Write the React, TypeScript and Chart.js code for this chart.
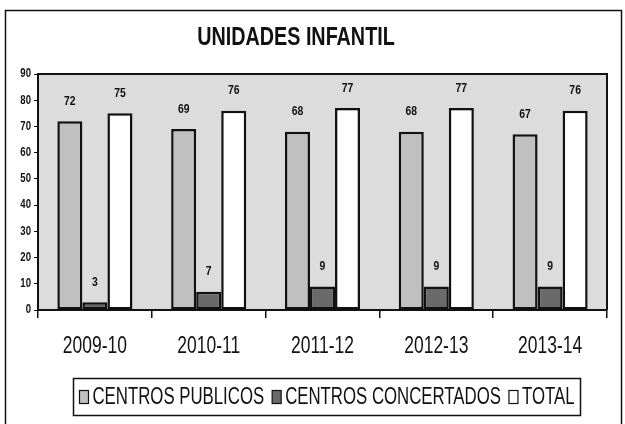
import React, { useEffect, useRef } from "react";
import { Chart, registerables } from "chart.js";

Chart.register(...registerables);

const categories = ["2009-10", "2010-11", "2011-12", "2012-13", "2013-14"];
const publicos = [72, 69, 68, 68, 67];
const concertados = [3, 7, 9, 9, 9];
const total = [75, 76, 77, 77, 76];
const seriesNames = ["CENTROS PUBLICOS", "CENTROS CONCERTADOS", "TOTAL"];
const titleText = "UNIDADES INFANTIL";
const yMax = 90;
const yStep = 10;

const FONT = "'Liberation Sans', Arial, sans-serif";
const SX = 0.76;
const LSX = 0.73;

function drawText(ctx: any, text: string, x: number, y: number, font: string, align: string, sx: number) {
  ctx.save();
  ctx.font = font;
  ctx.translate(x, y);
  ctx.scale(sx, 1);
  ctx.textAlign = align;
  ctx.textBaseline = "middle";
  ctx.fillStyle = "#111";
  ctx.fillText(text, 0, 0);
  ctx.restore();
}

const decor = {
  id: "decor",
  beforeDraw(chart: any) {
    const { ctx, chartArea: a } = chart;
    ctx.save();
    ctx.fillStyle = "#ffffff";
    ctx.fillRect(0, 0, chart.width, chart.height);
    ctx.strokeStyle = "#111";
    ctx.lineWidth = 1.5;
    ctx.strokeRect(5.5, 10.5, 616, 440);
    ctx.fillStyle = "#dcdcdc";
    ctx.fillRect(a.left, a.top, a.right - a.left, a.bottom - a.top);
    ctx.restore();
  },
  afterDatasetsDraw(chart: any) {
    const { ctx, chartArea: a } = chart;
    ctx.save();
    ctx.strokeStyle = "#111";
    ctx.lineWidth = 2;
    ctx.beginPath();
    ctx.moveTo(a.left, a.top);
    ctx.lineTo(a.right, a.top);
    ctx.lineTo(a.right, a.bottom);
    ctx.stroke();
    ctx.restore();

    // data labels
    chart.data.datasets.forEach((ds: any, i: number) => {
      const meta = chart.getDatasetMeta(i);
      meta.data.forEach((bar: any, j: number) => {
        drawText(ctx, String(ds.data[j]), bar.x, bar.y - 20, "bold 13px " + FONT, "center", 0.8);
      });
    });

    // x labels
    const xs = chart.scales.x;
    categories.forEach((c, i) => {
      drawText(ctx, c, xs.getPixelForValue(i), 347, "23px " + FONT, "center", SX);
    });

    // y labels
    const ys = chart.scales.y;
    ys.ticks.forEach((t: any) => {
      drawText(ctx, String(t.value), 31, ys.getPixelForValue(t.value), "bold 12px " + FONT, "right", 0.8);
    });

    // title
    drawText(ctx, titleText, 296, 38, "bold 25px " + FONT, "center", 0.79);

    // legend
    ctx.save();
    const legendFont = "23px " + FONT;
    ctx.font = legendFont;
    const bw = 9;
    const bh = 13;
    const gapBoxText = 4;
    const gapItems = 8;
    const widths = seriesNames.map((n) => ctx.measureText(n).width * LSX);
    const totalW = widths.reduce((s, w) => s + bw + gapBoxText + w, 0) + gapItems * (seriesNames.length - 1);
    const cx = 327;
    const cy = 397;
    let x = cx - totalW / 2;
    ctx.strokeStyle = "#111";
    ctx.lineWidth = 1.5;
    ctx.strokeRect(73.5, 378.5, 507, 37);
    chart.data.datasets.forEach((ds: any, i: number) => {
      ctx.fillStyle = ds.backgroundColor;
      ctx.fillRect(x, cy - bh / 2, bw, bh);
      ctx.lineWidth = 1.2;
      ctx.strokeRect(x, cy - bh / 2, bw, bh);
      drawText(ctx, seriesNames[i], x + bw + gapBoxText, cy + 1, legendFont, "left", LSX);
      x += bw + gapBoxText + widths[i] + gapItems;
    });
    ctx.restore();
  },
};

export default function App() {
  const ref = useRef<HTMLCanvasElement>(null);
  useEffect(() => {
    if (!ref.current) return;
    const mk = (data: number[], color: string) => ({
      data,
      backgroundColor: color,
      borderColor: "#111",
      borderWidth: 2.5,
      borderSkipped: false,
      barPercentage: 1,
      categoryPercentage: 0.66,
    });
    const chart = new Chart(ref.current, {
      type: "bar",
      data: {
        labels: categories,
        datasets: [
          { label: seriesNames[0], ...mk(publicos, "#c0c0c0") },
          { label: seriesNames[1], ...mk(concertados, "#6a6a6a") },
          { label: seriesNames[2], ...mk(total, "#ffffff") },
        ],
      },
      options: {
        animation: false,
        responsive: false,
        layout: { padding: { left: 0, top: 74, right: 18, bottom: 54 } },
        plugins: { legend: { display: false }, title: { display: false }, tooltip: { enabled: false } },
        scales: {
          x: {
            afterFit: (s: any) => { s.height = 60; },
            grid: { offset: true, drawOnChartArea: false, tickLength: 8, color: "#111", lineWidth: 1.5 },
            border: { color: "#111", width: 2 },
            ticks: { display: false },
          },
          y: {
            min: 0,
            max: yMax,
            afterFit: (s: any) => { s.width = 38; },
            grid: { drawOnChartArea: false, tickLength: 4, color: "#111" },
            border: { color: "#111", width: 2 },
            ticks: { display: false, stepSize: yStep },
          },
        },
      },
      plugins: [decor],
    });
    return () => chart.destroy();
  }, []);
  return (
    <div style={{ position: "fixed", left: 0, top: 0, width: 625, height: 424 }}>
      <canvas ref={ref} width={625} height={424} style={{ display: "block" }} />
    </div>
  );
}
